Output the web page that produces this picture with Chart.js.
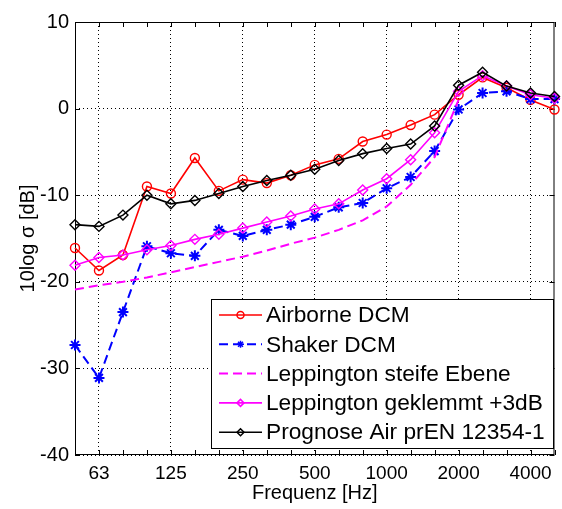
<!DOCTYPE html>
<html>
<head>
<meta charset="utf-8">
<script src="https://cdn.jsdelivr.net/npm/chart.js@4"></script>
<style>
  body { margin: 0; background: #fff; }
  canvas { display: block; }
</style>
</head>
<body>
<canvas id="myChart" width="562" height="509"></canvas>
<script>
// third-octave bands, Hz
const freqs = [50, 63, 80, 100, 125, 160, 200, 250, 315, 400, 500, 630, 800, 1000, 1250, 1600, 2000, 2500, 3150, 4000, 5000];
const shownFreqs = [63, 125, 250, 500, 1000, 2000, 4000];
const yTicks = [-40, -30, -20, -10, 0, 10];

// 10log sigma in dB
const airborne = [-16.1, -18.7, -16.9, -9.0, -9.8, -5.7, -9.5, -8.2, -8.6, -7.7, -6.5, -5.8, -3.8, -3.0, -1.9, -0.7, 1.6, 3.6, 2.4, 1.0, -0.1];
const shaker = [-27.3, -31.1, -23.5, -15.9, -16.7, -17.0, -14.0, -14.7, -14.0, -13.4, -12.5, -11.4, -10.9, -9.2, -7.9, -4.9, -0.1, 1.8, 2.0, 1.1, 1.1];
const leppSteif = [-20.9, -20.4, -20.0, -19.5, -18.9, -18.3, -17.7, -17.1, -16.4, -15.6, -14.9, -14.0, -12.9, -11.3, -8.8, -5.6, 1.0, null, null, null, null];
const leppKlemm = [-18.1, -17.2, -16.9, -16.3, -15.8, -15.1, -14.5, -13.8, -13.1, -12.4, -11.6, -11.0, -9.4, -8.1, -5.9, -2.8, 2.0, 3.8, 2.6, 1.6, 1.2];
const prognose = [-13.4, -13.6, -12.3, -10.0, -11.0, -10.6, -9.8, -9.0, -8.3, -7.7, -7.0, -6.0, -5.2, -4.6, -4.1, -2.0, 2.7, 4.2, 2.6, 1.8, 1.4];

Chart.defaults.font.family = "'Liberation Sans', Arial, sans-serif";
Chart.defaults.color = '#000';

const none = 'rgba(0,0,0,0)';

// box round the axes with inward tick marks (matlab look)
const frame = {
    id: 'frame',
    beforeDatasetsDraw(chart) {
        const c = chart.ctx, a = chart.chartArea;
        const xs = chart.scales.x, ys = chart.scales.y;
        c.save();
        c.strokeStyle = '#000';
        c.lineWidth = 1;
        c.setLineDash([]);
        c.strokeRect(a.left + 0.5, a.top + 0.5, a.right - a.left - 1, a.bottom - a.top - 1);
        c.beginPath();
        freqs.forEach((f, i) => {
            let px = Math.round(xs.getPixelForValue(i)) + 0.5;
            c.moveTo(px, a.bottom); c.lineTo(px, a.bottom - 5);
            c.moveTo(px, a.top); c.lineTo(px, a.top + 5);
        });
        yTicks.forEach(v => {
            let py = Math.round(ys.getPixelForValue(v)) + 0.5;
            c.moveTo(a.left, py); c.lineTo(a.left + 5, py);
            c.moveTo(a.right, py); c.lineTo(a.right - 5, py);
        });
        c.stroke();
        c.restore();
    }
};

// legend box inside the plot, lower right
const boxLegend = {
    id: 'boxLegend',
    afterDraw(chart) {
        const c = chart.ctx;
        const bx = 211, by = 299, bw = 342, bh = 149;
        c.save();
        c.fillStyle = '#fff';
        c.fillRect(bx, by, bw, bh);
        c.strokeStyle = '#000';
        c.lineWidth = 1;
        c.strokeRect(bx + 0.5, by + 0.5, bw, bh);
        chart.data.datasets.forEach((ds, i) => {
            let y = by + 16 + i * 29.3;
            c.strokeStyle = ds.borderColor;
            c.lineWidth = ds.borderWidth;
            c.setLineDash(ds.borderDash || []);
            c.beginPath();
            c.moveTo(219, y); c.lineTo(262, y);
            c.stroke();
            c.setLineDash([]);
            if (ds.pointRadius > 0) {
                c.fillStyle = none;
                c.lineWidth = 1.5;
                Chart.helpers.drawPoint(c, {pointStyle: ds.pointStyle, radius: 3.5, borderWidth: 1.5, rotation: 0}, 240.5, y);
            }
            c.fillStyle = '#000';
            c.font = "22.7px 'Liberation Sans', Arial, sans-serif";
            c.textBaseline = 'middle';
            c.fillText(ds.label, 266, y + 1);
        });
        c.restore();
    }
};

const ctx = document.getElementById('myChart');

var chart = new Chart(ctx, {
    type: 'line',
    data: {
        labels: freqs,
        datasets: [{
            label: 'Airborne DCM',
            data: airborne,
            borderColor: '#ff0000',
            borderWidth: 1.6,
            pointStyle: 'circle',
            pointRadius: 4.5,
            pointBorderWidth: 1.4,
            pointBackgroundColor: none,
            pointBorderColor: '#ff0000',
            order: 5
        }, {
            label: 'Shaker DCM',
            data: shaker,
            borderColor: '#0000ff',
            borderWidth: 2,
            borderDash: [9, 5],
            pointStyle: 'star',
            pointRadius: 5.5,
            pointBorderWidth: 2,
            pointBackgroundColor: none,
            pointBorderColor: '#0000ff',
            order: 4
        }, {
            label: 'Leppington steife Ebene',
            data: leppSteif,
            borderColor: '#ff00ff',
            borderWidth: 2,
            borderDash: [9, 5],
            pointRadius: 0,
            order: 3
        }, {
            label: 'Leppington geklemmt +3dB',
            data: leppKlemm,
            borderColor: '#ff00ff',
            borderWidth: 1.6,
            pointStyle: 'rectRot',
            pointRadius: 5,
            pointBorderWidth: 1.4,
            pointBackgroundColor: none,
            pointBorderColor: '#ff00ff',
            order: 2
        }, {
            label: 'Prognose Air prEN 12354-1',
            data: prognose,
            borderColor: '#000000',
            borderWidth: 1.6,
            pointStyle: 'rectRot',
            pointRadius: 5,
            pointBorderWidth: 1.4,
            pointBackgroundColor: none,
            pointBorderColor: '#000000',
            order: 1
        }]
    },
    options: {
        responsive: false,
        animation: false,
        devicePixelRatio: 1,
        layout: { padding: { top: 22, right: 2, left: 0, bottom: 0 } },
        elements: { line: { tension: 0 } },
        datasets: { line: { clip: false, spanGaps: false } },
        plugins: {
            legend: { display: false },
            tooltip: { enabled: false }
        },
        scales: {
            x: {
                type: 'category',
                grid: {
                    color: c => shownFreqs.includes(freqs[c.index]) ? '#000' : none,
                    drawTicks: false
                },
                border: { display: false, dash: [1, 3] },
                ticks: {
                    autoSkip: false,
                    maxRotation: 0,
                    minRotation: 0,
                    padding: 7,
                    font: { size: 19 },
                    callback: (v, i) => shownFreqs.includes(freqs[i]) ? String(freqs[i]) : ''
                },
                title: {
                    display: true,
                    text: 'Frequenz [Hz]',
                    font: { size: 20 },
                    padding: { top: 0, bottom: 4 }
                },
                afterFit: s => { s.height = 54; }
            },
            y: {
                min: -40,
                max: 10,
                grid: { color: '#000', drawTicks: false },
                border: { display: false, dash: [1, 3] },
                ticks: {
                    stepSize: 10,
                    padding: 6,
                    font: { size: 20 }
                },
                title: {
                    display: true,
                    text: '10log σ [dB]',
                    font: { size: 20 },
                    padding: { top: 16, bottom: 0 }
                },
                afterFit: s => { s.width = 75; }
            }
        }
    },
    plugins: [frame, boxLegend]
});
</script>
</body>
</html>
